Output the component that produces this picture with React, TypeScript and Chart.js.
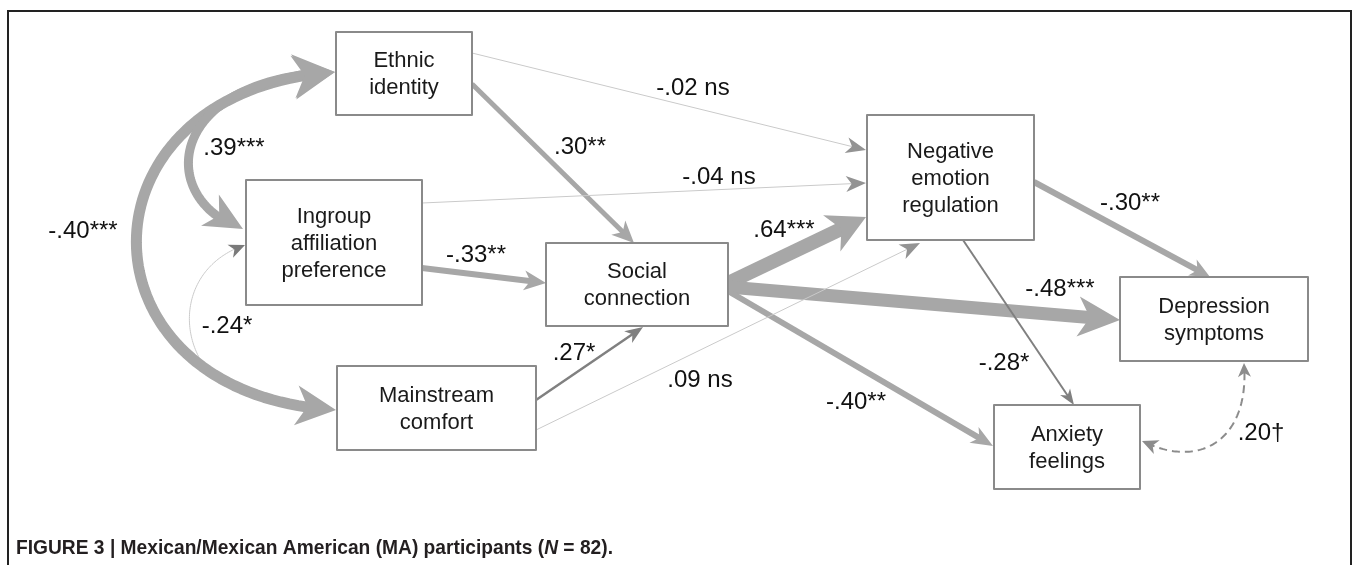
import React, { useEffect, useRef } from "react";
import { Chart, registerables } from "chart.js";

Chart.register(...registerables);

// ---- Data: variables (categories) ----
const nodeNames: string[] = [
  "Ethnic\nidentity",
  "Ingroup\naffiliation\npreference",
  "Mainstream\ncomfort",
  "Social\nconnection",
  "Negative\nemotion\nregulation",
  "Depression\nsymptoms",
  "Anxiety\nfeelings",
];

// ---- Data: paths (series values) ----
const pathFrom: number[] = [0, 1, 0, 1, 2, 2, 3, 3, 3, 4, 4, 0, 0, 1, 5];
const pathTo: number[] = [4, 4, 3, 3, 3, 4, 4, 5, 6, 5, 6, 1, 2, 2, 6];
const pathCoef: number[] = [-0.02, -0.04, 0.3, -0.33, 0.27, 0.09, 0.64, -0.48, -0.4, -0.3, -0.28, 0.39, -0.4, -0.24, 0.2];
const pathSig: string[] = ["ns", "ns", "**", "**", "*", "ns", "***", "***", "**", "**", "*", "***", "***", "*", "\u2020"];

const captionParts: [string, boolean][] = [
  ["FIGURE 3 | Mexican/Mexican American (MA) participants (", false],
  ["N", true],
  [" = 82).", false],
];

// ---- Layout (diagram units, mapped through the chart's scales) ----
type Pt = [number, number];
const W = 1356;
const H = 565;

const nodeBoxes: [number, number, number, number][] = [
  [336, 32, 472, 115],
  [246, 180, 422, 305],
  [337, 366, 536, 450],
  [546, 243, 728, 326],
  [867, 115, 1034, 240],
  [1120, 277, 1308, 361],
  [994, 405, 1140, 489],
];

interface EdgeStyle {
  pts: Pt[];
  curve?: boolean;
  w: number;
  color: string;
  headColor: string;
  startHead?: [number, number];
  endHead?: [number, number];
  dash?: number[];
  label: Pt;
}

const THICK = "#a7a7a7";
const DARK = "#808080";
const THIN = "#cacaca";
const THINHEAD = "#939393";

const edgeStyles: EdgeStyle[] = [
  { pts: [[472, 53], [866, 150]], w: 1, color: THIN, headColor: THINHEAD, endHead: [20, 8], label: [693, 88] },
  { pts: [[422, 203], [866, 183]], w: 1, color: THIN, headColor: THINHEAD, endHead: [20, 8], label: [719, 177] },
  { pts: [[472, 84], [634, 243]], w: 5, color: THICK, headColor: THICK, endHead: [22, 10], label: [580, 147] },
  { pts: [[422, 268], [546, 283]], w: 6, color: THICK, headColor: THICK, endHead: [22, 10], label: [476, 255] },
  { pts: [[536, 400], [643, 327]], w: 2.5, color: DARK, headColor: DARK, endHead: [18, 7], label: [574, 353] },
  { pts: [[536, 430], [920, 243]], w: 1, color: THIN, headColor: THINHEAD, endHead: [20, 8], label: [700, 380] },
  { pts: [[728, 283], [866, 217]], w: 14, color: THICK, headColor: THICK, endHead: [38, 20], label: [784, 230] },
  { pts: [[728, 287], [1120, 320]], w: 13, color: THICK, headColor: THICK, endHead: [42, 20], label: [1060, 289] },
  { pts: [[728, 291], [993, 446]], w: 6, color: THICK, headColor: THICK, endHead: [22, 9], label: [856, 402] },
  { pts: [[1034, 182], [1210, 277]], w: 6, color: THICK, headColor: THICK, endHead: [20, 9], label: [1130, 203] },
  { pts: [[963, 240], [1074, 405]], w: 2, color: DARK, headColor: DARK, endHead: [16, 6], label: [1004, 363] },
  { pts: [[335, 72], [165, 78], [155, 200], [243, 229]], curve: true, w: 9, color: THICK, headColor: THICK, startHead: [42, 22], endHead: [38, 18], label: [234, 148] },
  { pts: [[335, 72], [70, 90], [70, 395], [336, 410]], curve: true, w: 11, color: THICK, headColor: THICK, startHead: [42, 22], endHead: [40, 20], label: [83, 231] },
  { pts: [[208, 371], [175, 330], [185, 265], [245, 245]], curve: true, w: 1, color: THIN, headColor: "#7a7a7a", endHead: [16, 7], label: [227, 326] },
  { pts: [[1244, 363], [1250, 440], [1200, 470], [1142, 441]], curve: true, w: 2, color: "#8c8c8c", headColor: "#8c8c8c", dash: [8, 5], startHead: [14, 6.5], endHead: [16, 7.5], label: [1261, 433] },
];

const drawOrder = [13, 12, 11, 6, 7, 8, 9, 3, 2, 14, 4, 10, 0, 1, 5];

function fmtCoef(v: number, sig: string): string {
  const s = (v < 0 ? "-" : "") + "." + String(Math.round(Math.abs(v) * 100)).padStart(2, "0");
  return sig === "ns" ? s + " ns" : s + sig;
}

function bezier(p: Pt[], n = 80): Pt[] {
  const out: Pt[] = [];
  for (let i = 0; i <= n; i++) {
    const t = i / n;
    const a = (1 - t) ** 3, b = 3 * (1 - t) ** 2 * t, c = 3 * (1 - t) * t * t, d = t ** 3;
    out.push([
      a * p[0][0] + b * p[1][0] + c * p[2][0] + d * p[3][0],
      a * p[0][1] + b * p[1][1] + c * p[2][1] + d * p[3][1],
    ]);
  }
  return out;
}

function cutFromEnd(poly: Pt[], d: number): { keep: Pt[]; at: Pt } {
  let acc = 0;
  for (let i = poly.length - 1; i > 0; i--) {
    const [x1, y1] = poly[i];
    const [x0, y0] = poly[i - 1];
    const seg = Math.hypot(x1 - x0, y1 - y0);
    if (acc + seg >= d) {
      const r = (d - acc) / seg;
      const at: Pt = [x1 + (x0 - x1) * r, y1 + (y0 - y1) * r];
      return { keep: [...poly.slice(0, i), at], at };
    }
    acc += seg;
  }
  return { keep: [poly[0]], at: poly[0] };
}

function drawHead(ctx: CanvasRenderingContext2D, tip: Pt, from: Pt, len: number, half: number, color: string) {
  let dx = tip[0] - from[0], dy = tip[1] - from[1];
  const m = Math.hypot(dx, dy) || 1;
  dx /= m; dy /= m;
  const bx = tip[0] - dx * len, by = tip[1] - dy * len;
  const px = -dy, py = dx;
  ctx.beginPath();
  ctx.moveTo(tip[0], tip[1]);
  ctx.lineTo(bx + px * half, by + py * half);
  ctx.lineTo(tip[0] - dx * len * 0.72, tip[1] - dy * len * 0.72);
  ctx.lineTo(bx - px * half, by - py * half);
  ctx.closePath();
  ctx.fillStyle = color;
  ctx.fill();
}

const diagramPlugin = {
  id: "pathDiagram",
  afterDatasetsDraw(chart: any) {
    const ctx: CanvasRenderingContext2D = chart.ctx;
    const xs = chart.scales.x;
    const ys = chart.scales.y;
    const P = (p: Pt): Pt => [xs.getPixelForValue(p[0]), ys.getPixelForValue(p[1])];
    const k = Math.abs(xs.getPixelForValue(1) - xs.getPixelForValue(0));

    ctx.save();
    // outer frame
    ctx.strokeStyle = "#222";
    ctx.lineWidth = 2 * k;
    ctx.beginPath();
    const f0 = P([8, H + 5]), f1 = P([8, 11]), f2 = P([1351, 11]), f3 = P([1351, H + 5]);
    ctx.moveTo(f0[0], f0[1]);
    ctx.lineTo(f1[0], f1[1]);
    ctx.lineTo(f2[0], f2[1]);
    ctx.lineTo(f3[0], f3[1]);
    ctx.stroke();

    // edges
    for (const ei of drawOrder) {
      const st = edgeStyles[ei];
      let poly: Pt[] = (st.curve ? bezier(st.pts) : st.pts).map(P);
      const tipEnd = poly[poly.length - 1];
      const tipStart = poly[0];
      let dirEnd: Pt | null = null, dirStart: Pt | null = null;
      if (st.endHead) {
        dirEnd = cutFromEnd(poly, st.endHead[0] * k).at;
        poly = cutFromEnd(poly, st.endHead[0] * k * 0.66).keep;
      }
      if (st.startHead) {
        const rev = [...poly].reverse();
        dirStart = cutFromEnd(rev, st.startHead[0] * k).at;
        poly = cutFromEnd(rev, st.startHead[0] * k * 0.66).keep.reverse();
      }
      ctx.beginPath();
      ctx.moveTo(poly[0][0], poly[0][1]);
      for (let i = 1; i < poly.length; i++) ctx.lineTo(poly[i][0], poly[i][1]);
      ctx.strokeStyle = st.color;
      ctx.lineWidth = st.w * k;
      ctx.lineCap = "butt";
      ctx.lineJoin = "round";
      ctx.setLineDash(st.dash ? st.dash.map((d) => d * k) : []);
      ctx.stroke();
      ctx.setLineDash([]);
      if (st.endHead && dirEnd) drawHead(ctx, tipEnd, dirEnd, st.endHead[0] * k, st.endHead[1] * k, st.headColor);
      if (st.startHead && dirStart) drawHead(ctx, tipStart, dirStart, st.startHead[0] * k, st.startHead[1] * k, st.headColor);
    }

    // nodes
    ctx.textAlign = "center";
    ctx.textBaseline = "middle";
    nodeNames.forEach((name, i) => {
      const [x0, y0, x1, y1] = nodeBoxes[i];
      const a = P([x0, y0]), b = P([x1, y1]);
      ctx.fillStyle = "#ffffff";
      ctx.fillRect(a[0], a[1], b[0] - a[0], b[1] - a[1]);
      ctx.strokeStyle = "#8a8a8a";
      ctx.lineWidth = 2 * k;
      ctx.strokeRect(a[0], a[1], b[0] - a[0], b[1] - a[1]);
      const lines = name.split("\n");
      const c = P([(x0 + x1) / 2, (y0 + y1) / 2]);
      ctx.fillStyle = "#1a1a1a";
      ctx.font = `${22 * k}px "Liberation Sans", Arial, sans-serif`;
      lines.forEach((ln, j) => {
        ctx.fillText(ln, c[0], c[1] + (j - (lines.length - 1) / 2) * 27 * k + 1);
      });
    });

    // coefficient labels
    ctx.font = `${24 * k}px "Liberation Sans", Arial, sans-serif`;
    ctx.fillStyle = "#111";
    pathCoef.forEach((v, i) => {
      const lp = P(edgeStyles[i].label);
      ctx.fillText(fmtCoef(v, pathSig[i]), lp[0], lp[1]);
    });

    // caption (bold, horizontally condensed to the figure's caption width)
    const fam = `"Liberation Sans", Arial, sans-serif`;
    const size = 21 * k;
    const fontFor = (it: boolean) => `${it ? "italic " : ""}bold ${size}px ${fam}`;
    let total = 0;
    for (const [t, it] of captionParts) {
      ctx.font = fontFor(it);
      total += ctx.measureText(t).width;
    }
    const sx = (597 * k) / total;
    const origin = P([16, 548]);
    ctx.translate(origin[0], origin[1]);
    ctx.scale(sx, 1);
    ctx.textAlign = "left";
    ctx.fillStyle = "#231f20";
    let cx = 0;
    for (const [t, it] of captionParts) {
      ctx.font = fontFor(it);
      ctx.fillText(t, cx, 0);
      cx += ctx.measureText(t).width;
    }
    ctx.restore();
  },
};

export default function App() {
  const ref = useRef<HTMLCanvasElement | null>(null);
  useEffect(() => {
    document.body.style.margin = "0";
    const canvas = ref.current!;
    const chart = new Chart(canvas, {
      type: "scatter",
      data: {
        datasets: [
          {
            label: "variables",
            data: nodeBoxes.map((b) => ({ x: (b[0] + b[2]) / 2, y: (b[1] + b[3]) / 2 })),
            pointRadius: 0,
          },
        ],
      },
      options: {
        animation: false,
        responsive: false,
        maintainAspectRatio: false,
        layout: { padding: 0 },
        scales: {
          x: { type: "linear", min: 0, max: W, display: false },
          y: { type: "linear", min: 0, max: H, reverse: true, display: false },
        },
        plugins: { legend: { display: false }, tooltip: { enabled: false }, title: { display: false } },
        events: [],
      },
      plugins: [diagramPlugin],
    });
    return () => chart.destroy();
  }, []);
  return (
    <div style={{ width: W, height: H, background: "#fff" }}>
      <canvas ref={ref} width={W} height={H} style={{ display: "block" }} />
    </div>
  );
}
